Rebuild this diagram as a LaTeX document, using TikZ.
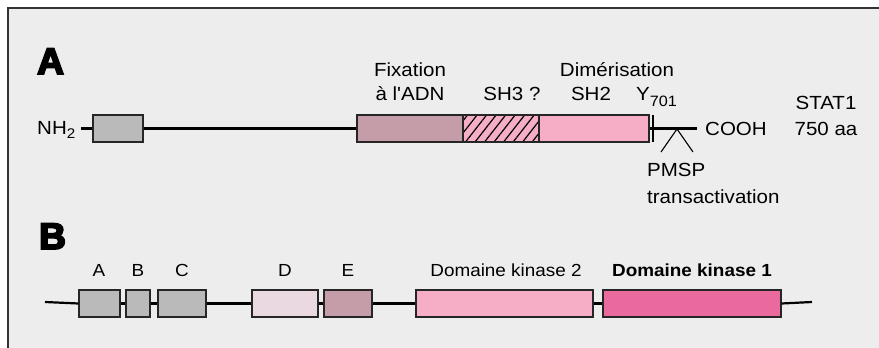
\documentclass[tikz,border=0pt]{standalone}
\usepackage{fontspec}
\setmainfont{Liberation Sans}[FakeStretch=1.08, Ligatures=TeXOff]
\newfontfamily\heavyfont{Liberation Sans}[BoldFeatures={FakeBold=5}]
\usetikzlibrary{patterns.meta}
\definecolor{bgc}{HTML}{EDEDED}
\definecolor{framec}{HTML}{333333}
\definecolor{grayc}{HTML}{BABABA}
\definecolor{mauvec}{HTML}{C49DA8}
\definecolor{pinkc}{HTML}{F5AEC6}
\definecolor{lightc}{HTML}{EAD9E0}
\definecolor{hotc}{HTML}{EB6A9E}
\tikzset{
  dombox/.style={draw=black!85, line width=1.2pt, rectangle, inner sep=0pt, minimum height=27pt},
  backbone/.style={line width=2.2pt, black},
  thinline/.style={line width=1.1pt, black},
  lblA/.style={inner sep=0pt, anchor=base, font=\fontsize{19}{19}\selectfont},
  lblB/.style={inner sep=0pt, anchor=base, font=\fontsize{17.5}{17.5}\selectfont},
  panel/.style={inner sep=0pt, anchor=base west, font=\fontsize{37}{37}\selectfont\heavyfont\bfseries}
}
\begin{document}
\begin{tikzpicture}[x=1pt,y=-1pt]
\useasboundingbox (0,0) rectangle (879,348);
\fill[white] (-2,-2) rectangle (881,350);
\fill[bgc] (8,8) rectangle (881,350);
\draw[framec, line width=1.6pt] (8,350) -- (8,8) -- (881,8);

% ---------- Panel A ----------
\node[panel] (pA) at (37,74) {A};
\node[lblA, anchor=base west] (nh2) at (37,134) {NH\raisebox{-4pt}{\fontsize{14}{14}\selectfont 2}};
\coordinate (aS) at (81,128.5);
\node[dombox, fill=grayc, minimum width=50pt] (a1) at (118,128.5) {};
\node[dombox, fill=mauvec, minimum width=106pt] (afix) at (410,128.5) {};
\node[dombox, minimum width=76pt, preaction={fill=pinkc},
      pattern={Lines[angle=52,distance=7.5pt,line width=1.2pt]}] (ash3) at (501,128.5) {};
\node[dombox, fill=pinkc, minimum width=110pt] (ash2) at (594,128.5) {};
\coordinate (aE) at (697,128.5);
\draw[backbone] (aS) -- (a1.west);
\draw[backbone] (a1.east) -- (afix.west);
\draw[backbone] (ash2.east) -- (aE);
\coordinate (tickT) at (653,115);
\coordinate (tickB) at (653,142);
\draw[thinline] (tickT) -- (tickB);
\coordinate (cL) at (661,152);
\coordinate (cTop) at (677,129);
\coordinate (cR) at (693,152);
\draw[thinline] (cL) -- (cTop) -- (cR);
\node[lblA, anchor=base west] (cooh) at (705,135) {COOH};
\node[lblA] (fix1) at (410,76) {Fixation};
\node[lblA] (fix2) at (410,100) {à l'ADN};
\node[lblA] (sh3) at (512,100) {SH3 ?};
\node[lblA] (dim) at (617,76) {Dimérisation};
\node[lblA] (sh2) at (591,100) {SH2};
\node[lblA, anchor=base west] (y701) at (636,100) {Y\raisebox{-6pt}{\fontsize{15}{15}\selectfont 701}};
\node[lblA] (stat1) at (826,109) {STAT1};
\node[lblA] (aa) at (826,135) {750 aa};
\node[lblA, anchor=base west] (pmsp) at (647,176) {PMSP};
\node[lblA, anchor=base west] (trans) at (647,203) {transactivation};

% ---------- Panel B ----------
\node[panel] (pB) at (39,249) {B};
\coordinate (bS) at (45,302);
\node[dombox, fill=grayc, minimum width=41pt] (bA) at (99.5,303.5) {};
\node[dombox, fill=grayc, minimum width=24pt] (bB) at (138,303.5) {};
\node[dombox, fill=grayc, minimum width=48pt] (bC) at (182,303.5) {};
\node[dombox, fill=lightc, minimum width=66pt] (bD) at (285,303.5) {};
\node[dombox, fill=mauvec, minimum width=48pt] (bE) at (348,303.5) {};
\node[dombox, fill=pinkc, minimum width=177pt] (bK2) at (504.5,303.5) {};
\node[dombox, fill=hotc, minimum width=178pt] (bK1) at (692,303.5) {};
\coordinate (bEnd) at (812,302);
\begin{scope}[backbone]
\draw (bS) -- (bA.west);
\draw (bA.east) -- (bB.west);
\draw (bB.east) -- (bC.west);
\draw (bC.east) -- (bD.west);
\draw (bD.east) -- (bE.west);
\draw (bE.east) -- (bK2.west);
\draw (bK2.east) -- (bK1.west);
\draw (bK1.east) -- (bEnd);
\end{scope}
\node[lblB] (lA) at (99,276) {A};
\node[lblB] (lB) at (138,276) {B};
\node[lblB] (lC) at (182,276) {C};
\node[lblB] (lD) at (285,276) {D};
\node[lblB] (lE) at (348,276) {E};
\node[lblB] (lK2) at (506,276) {Domaine kinase 2};
\node[lblB, font=\fontsize{17.5}{17.5}\selectfont\bfseries] (lK1) at (692,276) {Domaine kinase 1};
\end{tikzpicture}
\end{document}
